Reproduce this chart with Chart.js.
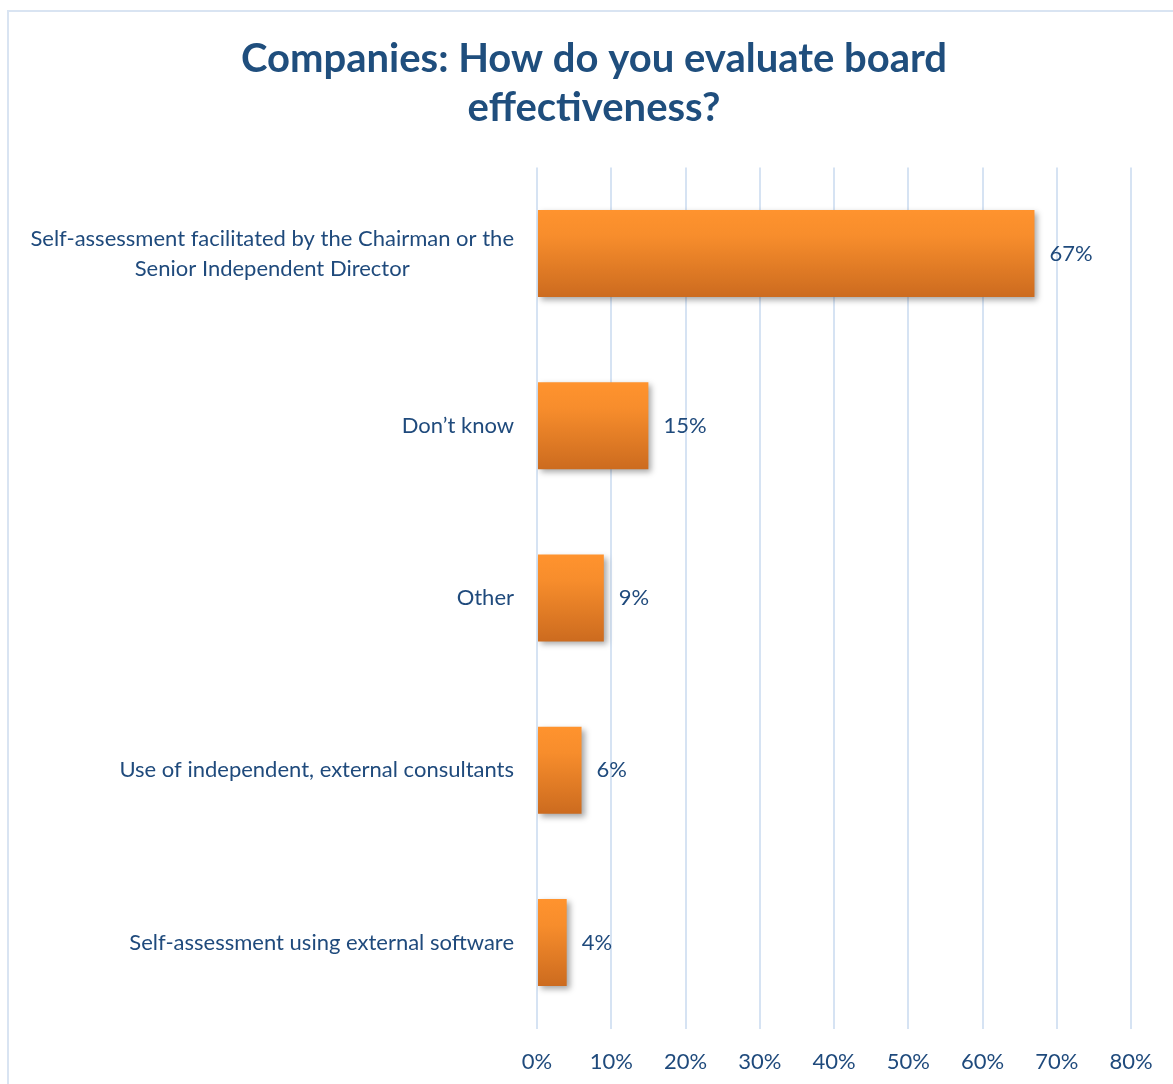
<!DOCTYPE html>
<html lang="en">
<head>
    <meta charset="UTF-8">
    <title>Board effectiveness</title>
    <script src="https://cdn.jsdelivr.net/npm/chart.js@4"></script>
    <style>
        html, body { margin: 0; padding: 0; overflow: hidden; background: #fff; }
        #frame {
            position: absolute; left: 7px; top: 10px;
            width: 1180px; height: 1100px;
            border-left: 2px solid #d9e4f2; border-top: 2px solid #d9e4f2;
        }
    </style>
</head>
<body>
    <div id="frame"><canvas id="myChart" width="1180" height="1095"></canvas></div>
    <script>
        // survey answers, share of companies in percent
        const categories = [
            ['Self-assessment facilitated by the Chairman or the', 'Senior Independent Director'],
            ['Don\u2019t know'],
            ['Other'],
            ['Use of independent, external consultants'],
            ['Self-assessment using external software']
        ];
        const values = [67, 15, 9, 6, 4];
        const xTicks = [0, 10, 20, 30, 40, 50, 60, 70, 80];
        const titleLines = ['Companies: How do you evaluate board', 'effectiveness?'];

        const textBlue = '#1f4a7c';
        const fontFamily = 'Lato, "Open Sans", sans-serif';

        // orange bar fill, lighter at the top
        function barFill(context) {
            const chart = context.chart;
            const yScale = chart.scales.y;
            if (!yScale || context.dataIndex === undefined) return '#f08a2c';
            const centre = yScale.getPixelForValue(context.dataIndex);
            const band = (yScale.bottom - yScale.top) / categories.length;
            if (!isFinite(centre) || !isFinite(band) || band <= 0) return '#f08a2c';
            const half = band * 0.505 / 2;
            const g = chart.ctx.createLinearGradient(0, centre - half, 0, centre + half);
            g.addColorStop(0, '#ff932e');
            g.addColorStop(0.3, '#f78d2c');
            g.addColorStop(1, '#cc6b1f');
            return g;
        }

        // soft drop shadow under the bars
        const barShadow = {
            id: 'barShadow',
            beforeDatasetsDraw(chart) {
                const ctx = chart.ctx;
                ctx.save();
                ctx.shadowColor = 'rgba(0,0,0,0.35)';
                ctx.shadowBlur = 6;
                ctx.shadowOffsetX = 3;
                ctx.shadowOffsetY = 3;
            },
            afterDatasetsDraw(chart) {
                chart.ctx.restore();
            }
        };

        // category names left of the axis, each block centred on its own lines
        const categoryLabels = {
            id: 'categoryLabels',
            afterDraw(chart) {
                const ctx = chart.ctx;
                const yScale = chart.scales.y;
                const lineH = 30;
                ctx.save();
                ctx.font = '22px ' + fontFamily;
                ctx.fillStyle = textBlue;
                ctx.textBaseline = 'middle';
                ctx.textAlign = 'center';
                const right = chart.chartArea.left - 23;
                categories.forEach((lines, i) => {
                    const y = yScale.getPixelForValue(i);
                    const blockW = Math.max(...lines.map(l => ctx.measureText(l).width));
                    const centreX = right - blockW / 2;
                    lines.forEach((l, j) => {
                        const ly = y + (j - (lines.length - 1) / 2) * lineH;
                        ctx.fillText(l, centreX, ly);
                    });
                });
                ctx.restore();
            }
        };

        // percentage next to the end of every bar
        const valueLabels = {
            id: 'valueLabels',
            afterDatasetsDraw(chart) {
                const ctx = chart.ctx;
                const meta = chart.getDatasetMeta(0);
                ctx.save();
                ctx.font = '22px ' + fontFamily;
                ctx.fillStyle = textBlue;
                ctx.textAlign = 'left';
                ctx.textBaseline = 'middle';
                meta.data.forEach((bar, i) => {
                    ctx.fillText(values[i] + '%', bar.x + 15, bar.y);
                });
                ctx.restore();
            }
        };

        const ctx = document.getElementById('myChart').getContext('2d');
        new Chart(ctx, {
            type: 'bar',
            data: {
                labels: categories,
                datasets: [{
                    data: values,
                    backgroundColor: barFill,
                    borderWidth: 0,
                    barPercentage: 0.505,
                    categoryPercentage: 1
                }]
            },
            options: {
                indexAxis: 'y',
                responsive: false,
                animation: false,
                // left padding keeps the title centred over the whole frame
                layout: { padding: { left: 48, right: 58, top: 0, bottom: 12 } },
                plugins: {
                    legend: { display: false },
                    tooltip: { enabled: false },
                    title: {
                        display: true,
                        text: titleLines,
                        color: '#1f4e7d',
                        font: { family: fontFamily, size: 40, weight: 'bold', lineHeight: 1.23 },
                        padding: { top: 22, bottom: 35 }
                    }
                },
                scales: {
                    x: {
                        min: 0,
                        max: 80,
                        afterBuildTicks(scale) {
                            scale.ticks = xTicks.map(v => ({ value: v }));
                        },
                        grid: { color: '#d6e3f3', lineWidth: 2, drawTicks: false },
                        border: { display: false },
                        ticks: {
                            padding: 20,
                            color: textBlue,
                            font: { family: fontFamily, size: 22 },
                            callback: v => v + '%'
                        }
                    },
                    y: {
                        grid: { display: false },
                        border: { display: false },
                        ticks: { display: false },
                        afterFit(scale) { scale.width = 480; }
                    }
                }
            },
            plugins: [barShadow, categoryLabels, valueLabels]
        });
    </script>
</body>
</html>
